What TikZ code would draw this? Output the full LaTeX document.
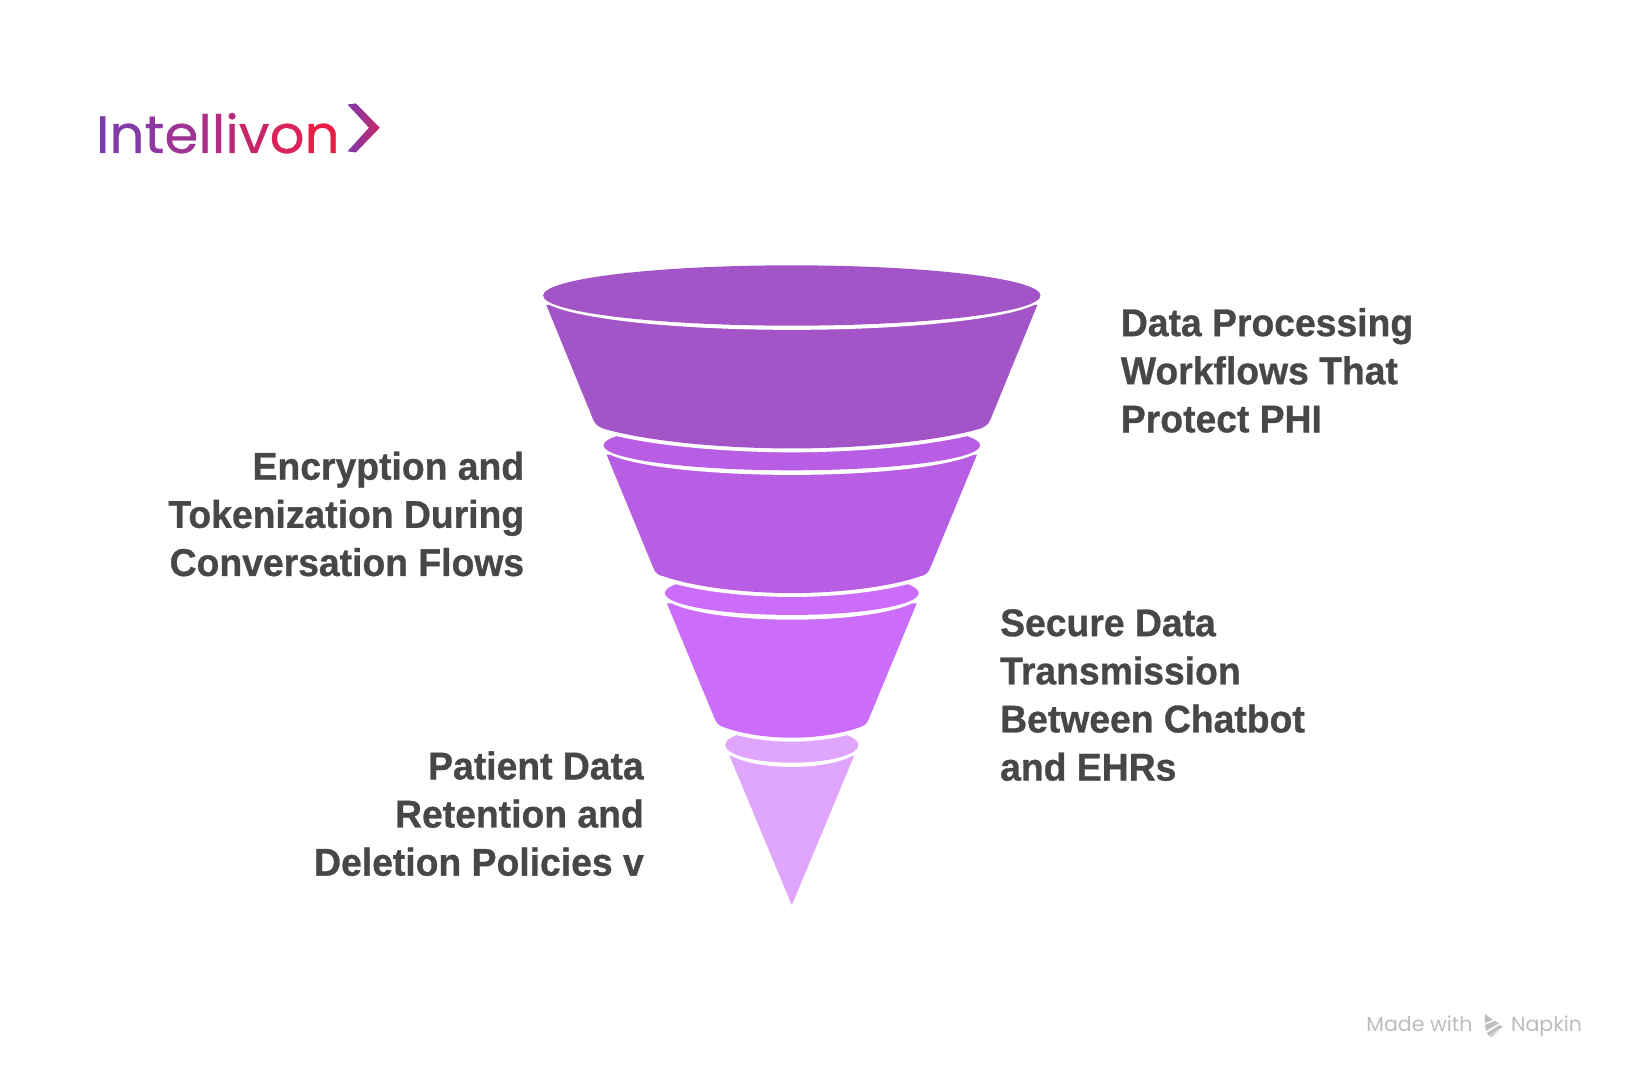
\documentclass[tikz,border=0pt]{standalone}
\usepackage{fontspec}
\setmainfont{Liberation Sans}[BoldFeatures={FakeStretch=0.965,FakeBold=0.8}]
\newfontfamily\logofont{Poppins}[FakeBold=0.5,FakeStretch=1.04]
\newfontfamily\markfont{Poppins}
\definecolor{fa}{HTML}{A355C8}
\definecolor{fb}{HTML}{B85EE5}
\definecolor{fc}{HTML}{CB6CFB}
\definecolor{fd}{HTML}{E0A6FE}
\definecolor{txt}{HTML}{474747}
\definecolor{mk}{HTML}{BDBDBD}
\definecolor{la}{HTML}{7B3BAB}
\definecolor{lb}{HTML}{823AA8}
\definecolor{lc}{HTML}{8C39A2}
\definecolor{ld}{HTML}{9E3594}
\definecolor{le}{HTML}{AB3088}
\definecolor{lf}{HTML}{B22C84}
\definecolor{lg}{HTML}{BB2A79}
\definecolor{lh}{HTML}{C72668}
\definecolor{li}{HTML}{D9235A}
\definecolor{lj}{HTML}{E91E45}
\tikzset{
  lbl/.style={font=\bfseries\fontsize{29pt}{36.1pt}\selectfont, text=txt, inner sep=0pt},
  body/.style={fill=#1, preaction={draw=white, line width=5.8pt, line join=round}},
  rim/.style={fill=#1},
  gap/.style={fill=white},
}
\begin{document}
\begin{tikzpicture}[x=0.7805pt,y=-0.7805pt]
\useasboundingbox (0,0) rectangle (1568.5,1037.9);
% layer 4
\path[body=fd] (701,726) -- (761,870) -- (821,726) -- cycle;
\fill[gap] (761,716) ellipse [x radius=67, y radius=21];
\fill[rim=fd] (761,716) ellipse [x radius=64, y radius=17];
% layer 3
\path[body=fc] (641,580) -- (687,691) .. controls (689,696) and (692,698) .. (696,699) .. controls (715,706) and (740,709) .. (761,709) .. controls (782,709) and (807,706) .. (826,699) .. controls (830,698) and (833,696) .. (835,691) -- (881,580) -- cycle;
\fill[gap] (761,570) ellipse [x radius=125, y radius=25.6];
\fill[rim=fc] (761,570) ellipse [x radius=122, y radius=21];
% layer 2
\path[body=fb] (583,437) -- (628,546) .. controls (630,551) and (633,553) .. (638,554) .. controls (670,565) and (720,570) .. (761,570) .. controls (802,570) and (852,565) .. (884,554) .. controls (889,553) and (892,551) .. (894,546) -- (939,437) -- cycle;
\fill[gap] (761,428) ellipse [x radius=184, y radius=28.4];
\fill[rim=fb] (761,428) ellipse [x radius=181, y radius=24];
% layer 1
\path[body=fa] (525,293) -- (570,403) .. controls (572,408) and (575,410) .. (580,412) .. controls (625,425) and (700,431) .. (761,431) .. controls (822,431) and (897,425) .. (942,412) .. controls (947,410) and (950,408) .. (952,403) -- (997,293) -- cycle;
\fill[gap] (761,284) ellipse [x radius=242, y radius=33];
\fill[rim=fa] (761,284) ellipse [x radius=239, y radius=29];
% labels
\node[lbl, anchor=west, align=left] (t1) at (1077,356) {Data Processing\\Workflows That\\Protect PHI};
\node[lbl, anchor=east, align=right] (t2) at (504,494) {Encryption and\\Tokenization During\\Conversation Flows};
\node[lbl, anchor=west, align=left] (t3) at (961,668) {Secure Data\\Transmission\\Between Chatbot\\and EHRs};
\node[lbl, anchor=east, align=right] (t4) at (619,782) {Patient Data\\Retention and\\Deletion Policies v};
% logo
\node[anchor=base west, inner sep=0pt, font=\logofont\fontsize{39.5pt}{39.5pt}\selectfont] (logo) at (92,147) {{\color{la}I}{\color{lb}n}{\color{lc}t}{\color{ld}e}{\color{le}l}{\color{lf}l}{\color{lg}i}{\color{lh}v}{\color{li}o}{\color{lj}n}};
\shade[left color=la!90!lc, right color=lh] (334,100.4) -- (342,99.4) -- (365,122.7) -- (342,146.5) -- (334,145.5) -- (354.6,122.7) -- cycle;
% footer
\node[anchor=base west, inner sep=0pt, text=mk, font=\markfont\fontsize{15.4pt}{15.4pt}\selectfont] (m1) at (1313,991) {Made with};
\node[anchor=base west, inner sep=0pt, text=mk, font=\markfont\fontsize{15.4pt}{15.4pt}\selectfont] (m2) at (1452,991) {Napkin};
\begin{scope}[scale=0.961]
\fill[mk] (1485,1014) -- (1493,1020) -- (1485,1023) -- cycle;
\fill[mk] (1485,1025) -- (1495,1021) -- (1499,1023.5) -- (1486,1031) -- cycle;
\fill[mk] (1487,1033) -- (1500,1025) -- (1503,1027) -- (1489,1036) -- cycle;
\fill[mk] (1490.5,1038) -- (1499,1030.5) -- (1491,1035.5) -- cycle;
\end{scope}
\end{tikzpicture}
\end{document}
